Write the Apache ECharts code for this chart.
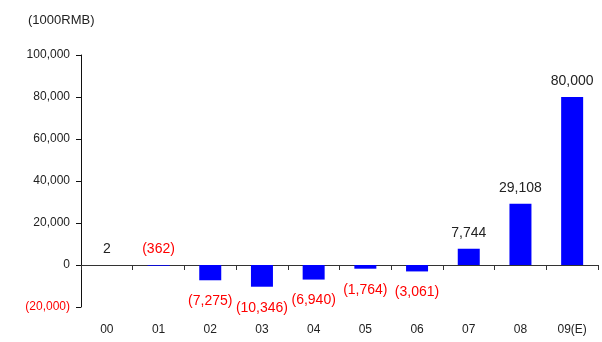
<!DOCTYPE html>
<html>
<head>
<meta charset="utf-8">
<script src="https://cdn.jsdelivr.net/npm/echarts@6/dist/echarts.min.js"></script>
<style>html,body{margin:0;padding:0;background:#fff}#c{width:602px;height:342px}</style>
</head>
<body>
<div id="c"></div>
<script>
const categories = ['00', '01', '02', '03', '04', '05', '06', '07', '08', '09(E)'];
const values = [2, -362, -7275, -10346, -6940, -1764, -3061, 7744, 29108, 80000];
const yTicks = { min: -20000, max: 100000, interval: 20000 };
const unitLabel = '(1000RMB)';

const FONT = '"Liberation Sans", Arial, sans-serif';
const fmt = v => Math.abs(v).toLocaleString('en-US');

const chart = echarts.init(document.getElementById('c'));
chart.setOption({
  animation: false,
  title: {
    text: unitLabel, left: 23, top: 9,
    textStyle: { fontFamily: FONT, fontSize: 13, fontWeight: 'normal', color: '#222' }
  },
  grid: { left: 81, right: 4, top: 55, bottom: 35, containLabel: false, outerBoundsMode: 'none' },
  xAxis: {
    type: 'category',
    data: categories,
    axisLine: { onZero: true, lineStyle: { color: '#333', width: 1 } },
    axisTick: { show: true, interval: 0, inside: false, length: 5, lineStyle: { color: '#333', width: 1 } },
    axisLabel: { margin: 17, fontFamily: FONT, fontSize: 12, color: '#222' }
  },
  yAxis: {
    type: 'value',
    min: yTicks.min, max: yTicks.max, interval: yTicks.interval,
    splitLine: { show: false },
    axisLine: { show: true, lineStyle: { color: '#111', width: 1 } },
    axisTick: { show: true, length: 5, lineStyle: { color: '#111' } },
    axisLabel: {
      margin: 11, fontFamily: FONT, fontSize: 12, color: '#222',
      formatter: v => v < 0 ? '{neg|(' + fmt(v) + ')}' : fmt(v),
      rich: { neg: { color: '#ff0000', fontFamily: FONT, fontSize: 12 } }
    }
  },
  series: [{
    type: 'bar',
    barWidth: 22,
    itemStyle: { color: '#0000ff' },
    data: values.map(v => {
      const neg = v < 0;
      const below = neg && Math.abs(v) > 1000;
      return {
        value: v,
        label: {
          show: true,
          position: below ? 'bottom' : 'top',
          distance: below ? 14 : 9,
          fontFamily: FONT, fontSize: 14,
          color: neg ? '#ff0000' : '#222',
          formatter: () => neg ? '(' + fmt(v) + ')' : fmt(v)
        }
      };
    })
  }]
});
</script>
</body>
</html>
